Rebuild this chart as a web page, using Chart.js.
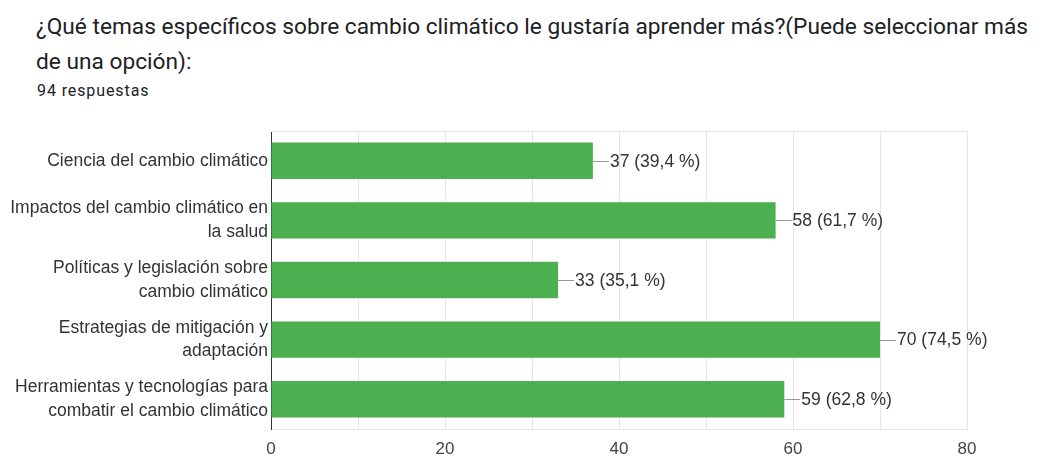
<!DOCTYPE html>
<html>
<head>
<meta charset="utf-8">
<script src="https://cdn.jsdelivr.net/npm/chart.js@4"></script>
<style>
  html, body { margin: 0; padding: 0; background: #fff; }
  body { width: 1042px; height: 457px; position: relative; overflow: hidden; }
  .title { position: absolute; left: 36px; font-family: Roboto, sans-serif; font-size: 22.7px; color: #202124; white-space: nowrap; }
  .sub { position: absolute; left: 37px; top: 81px; font-family: Roboto, sans-serif; font-size: 16px; letter-spacing: 0.9px; color: #202124; }
  #wrap { position: absolute; left: 0; top: 0; width: 1042px; height: 457px; }
</style>
</head>
<body>
<div class="title" style="top:13px">¿Qué temas específicos sobre cambio climático le gustaría aprender más?(Puede seleccionar más</div>
<div class="title" style="top:48px">de una opción):</div>
<div class="sub">94 respuestas</div>
<div id="wrap"><canvas id="chart"></canvas></div>
<script>
const totalResponses = 94;
const categories = [
    ["Ciencia del cambio climático"],
    ["Impactos del cambio climático en", "la salud"],
    ["Políticas y legislación sobre", "cambio climático"],
    ["Estrategias de mitigación y", "adaptación"],
    ["Herramientas y tecnologías para", "combatir el cambio climático"]
];
const counts = [37, 58, 33, 70, 59];
const tickLabels = [0, 20, 40, 60, 80];

const labelFont = "'Liberation Sans', Arial, sans-serif";

function percentText(v) {
    return (v / totalResponses * 100).toFixed(1).replace(".", ",");
}

// value labels with a short leader line at the end of each bar
const valueLabels = {
    id: "valueLabels",
    afterDatasetsDraw(chart) {
        const ctx = chart.ctx;
        const meta = chart.getDatasetMeta(0);
        ctx.save();
        ctx.font = "17.5px " + labelFont;
        ctx.textBaseline = "middle";
        meta.data.forEach((bar, i) => {
            const v = counts[i];
            ctx.strokeStyle = "#999";
            ctx.lineWidth = 1;
            ctx.beginPath();
            ctx.moveTo(bar.x, Math.round(bar.y) + 0.5);
            ctx.lineTo(bar.x + 16, Math.round(bar.y) + 0.5);
            ctx.stroke();
            ctx.fillStyle = "#333";
            ctx.fillText(v + " (" + percentText(v) + " %)", bar.x + 17, bar.y + 1);
        });
        ctx.restore();
    }
};

// light frame line along the top of the plot
const topBorder = {
    id: "topBorder",
    beforeDatasetsDraw(chart) {
        const { ctx, chartArea } = chart;
        ctx.save();
        ctx.strokeStyle = "#e6e6e6";
        ctx.beginPath();
        ctx.moveTo(chartArea.left, chartArea.top + 0.5);
        ctx.lineTo(chartArea.right, chartArea.top + 0.5);
        ctx.stroke();
        ctx.restore();
    }
};

new Chart(document.getElementById("chart"), {
    type: "bar",
    data: {
        labels: categories,
        datasets: [{
            data: counts,
            backgroundColor: "#4caf50",
            borderWidth: 0,
            categoryPercentage: 1,
            barPercentage: 0.61
        }]
    },
    options: {
        indexAxis: "y",
        responsive: true,
        maintainAspectRatio: false,
        animation: false,
        layout: { padding: { top: 131, right: 75, bottom: 0, left: 0 } },
        plugins: {
            legend: { display: false },
            tooltip: { enabled: false }
        },
        scales: {
            x: {
                min: tickLabels[0],
                max: tickLabels[tickLabels.length - 1],
                afterFit: s => { s.height = 28; },
                border: { color: "#e6e6e6" },
                grid: { color: "#e6e6e6", drawTicks: false },
                ticks: {
                    stepSize: 10,
                    padding: 10,
                    color: "#444",
                    font: { size: 17, family: labelFont },
                    callback: v => tickLabels.includes(v) ? String(v) : ""
                }
            },
            y: {
                afterFit: s => { s.width = 271; },
                border: { color: "#333", width: 1 },
                grid: { display: false, drawTicks: false },
                ticks: {
                    padding: 3,
                    color: "#333",
                    font: { size: 17.5, family: labelFont, lineHeight: 1.35 }
                }
            }
        }
    },
    plugins: [valueLabels, topBorder]
});
</script>
</body>
</html>
